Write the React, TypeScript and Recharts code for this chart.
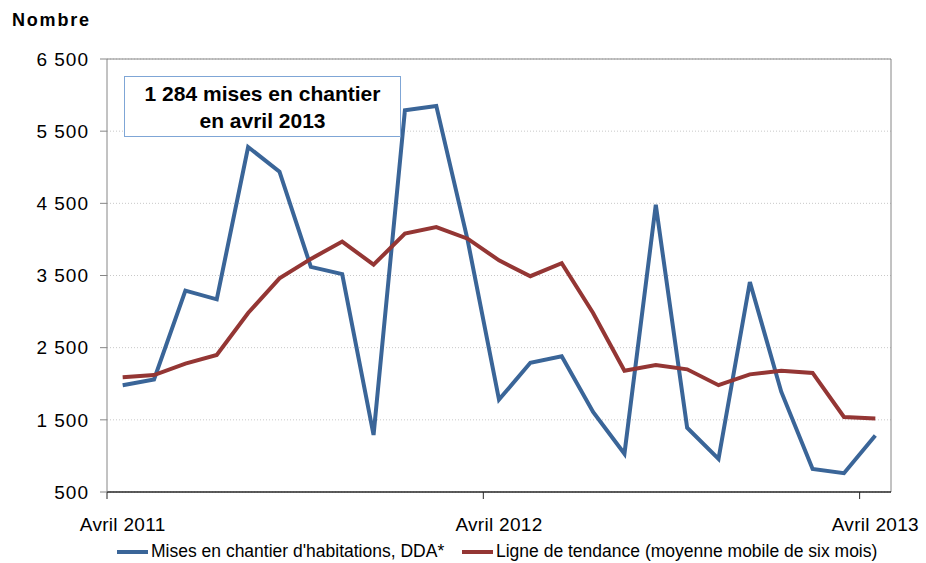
import { LineChart, Line, XAxis, YAxis, CartesianGrid, ReferenceLine, Legend } from "recharts"

const months = [
  "Avril 2011", "Mai 2011", "Juin 2011", "Juillet 2011", "Août 2011", "Septembre 2011",
  "Octobre 2011", "Novembre 2011", "Décembre 2011", "Janvier 2012", "Février 2012", "Mars 2012",
  "Avril 2012", "Mai 2012", "Juin 2012", "Juillet 2012", "Août 2012", "Septembre 2012",
  "Octobre 2012", "Novembre 2012", "Décembre 2012", "Janvier 2013", "Février 2013", "Mars 2013",
  "Avril 2013",
]

// Mises en chantier d'habitations, DDA*
const mises = [
  1980, 2060, 3290, 3170, 5280, 4940, 3620, 3520, 1290, 5790, 5850, 3990,
  1780, 2290, 2380, 1610, 1030, 4480, 1390, 960, 3410, 1890, 820, 760, 1284,
]

// Ligne de tendance (moyenne mobile de six mois)
const tendance = [
  2090, 2120, 2280, 2400, 2980, 3460, 3730, 3970, 3650, 4080, 4170, 4010,
  3710, 3490, 3670, 2980, 2180, 2260, 2200, 1980, 2130, 2180, 2150, 1540, 1520,
]

const yTicks = [500, 1500, 2500, 3500, 4500, 5500, 6500]
const xTicks = [0, 12, 24]

const BLUE = "#3A6598"
const RED = "#943634"
const FONT = "'Liberation Sans', Arial, sans-serif"

const W = 926
const H = 563
const PLOT_LEFT = 107
const PLOT_RIGHT = 35
const MONTH_WIDTH = (W - PLOT_LEFT - PLOT_RIGHT) / months.length

const chartData = months.map((month, i) => ({
  pos: i + 0.5,
  month,
  mises: mises[i],
  tendance: tendance[i],
}))

const formatNumber = (v: number) => String(v).replace(/\B(?=(\d{3})+(?!\d))/g, " ")

// labels sit in the middle of the month, tick marks on the boundary
const MonthTick = (props: any) => {
  const { x, y, payload } = props
  return (
    <text
      x={x + MONTH_WIDTH / 2}
      y={y}
      dy="0.71em"
      textAnchor="middle"
      fill="#000"
      fontSize={19}
      fontFamily={FONT}
      style={{ letterSpacing: 0.3 }}
    >
      {months[payload.value]}
    </text>
  )
}

const renderLegend = () => {
  const items = [
    { label: "Mises en chantier d'habitations, DDA*", color: BLUE, left: 117 },
    { label: "Ligne de tendance (moyenne mobile de six mois)", color: RED, left: 462 },
  ]
  return (
    <div style={{ position: "relative", width: W, height: 24 }}>
      {items.map((item) => (
        <div
          key={item.label}
          style={{ position: "absolute", left: item.left, top: 0, display: "flex", alignItems: "center", whiteSpace: "nowrap" }}
        >
          <div style={{ width: 31, height: 4, backgroundColor: item.color, marginRight: 3 }} />
          <span style={{ fontSize: 17.5, color: "#000", fontFamily: FONT }}>{item.label}</span>
        </div>
      ))}
    </div>
  )
}

export default function App() {
  return (
    <div style={{ position: "absolute", left: 0, top: 0, width: W, height: H, background: "#fff", fontFamily: FONT }}>
      <div style={{ position: "absolute", left: 12, top: 10, fontSize: 18, fontWeight: 700, color: "#000", letterSpacing: 1.8 }}>
        Nombre
      </div>

      <LineChart width={W} height={H} data={chartData} margin={{ top: 59, right: PLOT_RIGHT, left: 0, bottom: 0 }}>
        <CartesianGrid vertical={false} stroke="#C8C8C8" strokeDasharray="1 2" />
        <XAxis
          dataKey="pos"
          type="number"
          domain={[0, months.length]}
          ticks={xTicks}
          interval={0}
          height={71}
          tick={<MonthTick />}
          tickSize={7}
          tickMargin={19}
          axisLine={{ stroke: "#262626", strokeWidth: 1.5 }}
          tickLine={{ stroke: "#262626" }}
        />
        <YAxis
          type="number"
          domain={[500, 6500]}
          ticks={yTicks}
          interval={0}
          width={PLOT_LEFT}
          tickFormatter={formatNumber}
          tick={{ fill: "#000", fontSize: 19, fontFamily: FONT, style: { letterSpacing: 1 } }}
          tickSize={7}
          tickMargin={11}
          axisLine={{ stroke: "#868686" }}
          tickLine={{ stroke: "#868686" }}
        />
        <ReferenceLine y={6500} stroke="#868686" />
        <ReferenceLine x={months.length} stroke="#868686" />
        <Line
          type="linear"
          dataKey="mises"
          name="Mises en chantier d'habitations, DDA*"
          stroke={BLUE}
          strokeWidth={4}
          dot={false}
          isAnimationActive={false}
        />
        <Line
          type="linear"
          dataKey="tendance"
          name="Ligne de tendance (moyenne mobile de six mois)"
          stroke={RED}
          strokeWidth={4}
          dot={false}
          isAnimationActive={false}
        />
        <Legend
          content={renderLegend}
          layout="vertical"
          align="center"
          verticalAlign="middle"
          wrapperStyle={{ top: 541, left: 0, width: W, height: 24 }}
        />
      </LineChart>

      <div
        style={{
          position: "absolute",
          left: 124,
          top: 76,
          width: 275,
          height: 59,
          border: "1px solid #7FA6D6",
          background: "#fff",
          display: "flex",
          flexDirection: "column",
          justifyContent: "center",
          alignItems: "center",
          fontSize: 21,
          fontWeight: 700,
          lineHeight: "27px",
          color: "#000",
        }}
      >
        <div>1 284 mises en chantier</div>
        <div>en avril 2013</div>
      </div>
    </div>
  )
}
